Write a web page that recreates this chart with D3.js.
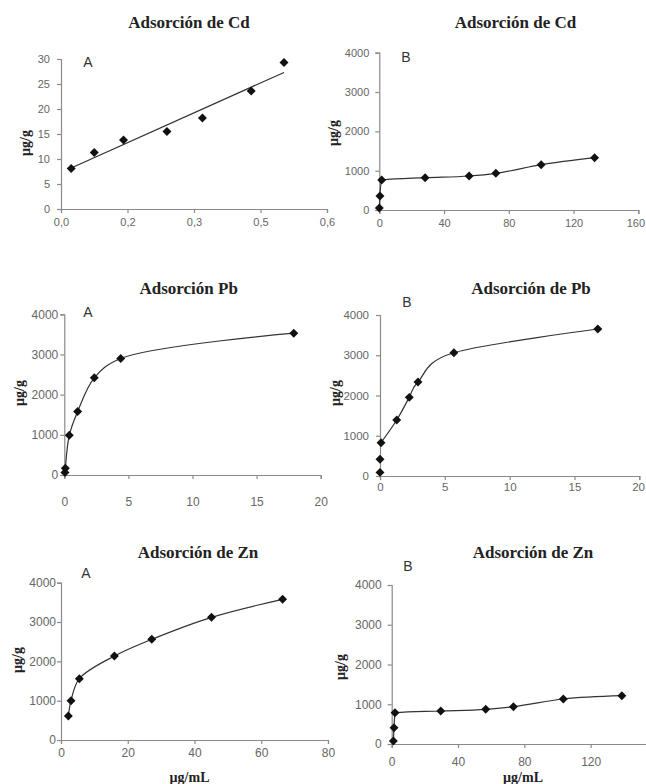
<!DOCTYPE html>
<html>
<head>
<meta charset="utf-8">
<script src="https://cdn.jsdelivr.net/npm/d3@7"></script>
<style>
  html, body { margin: 0; padding: 0; background: #fff; }
  svg { display: block; }
  .title { font-family: "Liberation Serif", "Times New Roman", serif; font-weight: bold; fill: #222; }
  .ylab, .xlab { font-family: "Liberation Serif", "Times New Roman", serif; font-weight: bold; fill: #222; }
  .tick text { font-family: "Liberation Sans", Arial, sans-serif; fill: #666; }
  .letter { font-family: "Liberation Sans", Arial, sans-serif; fill: #333; }
</style>
</head>
<body>
<svg id="chart" width="646" height="784"></svg>
<script>
// ---------------- DATA ----------------
const titles = ["Adsorción de Cd", "Adsorción de Cd", "Adsorción Pb", "Adsorción de Pb", "Adsorción de Zn", "Adsorción de Zn"];
const panelLetters = ["A", "B", "A", "B", "A", "B"];
const yAxisLabel = "µg/g";
const xAxisLabel = "µg/mL";

// Cd – A
const cdA_x = [0.023, 0.075, 0.141, 0.239, 0.319, 0.429, 0.503];
const cdA_y = [8.1, 11.3, 13.8, 15.5, 18.2, 23.6, 29.3];
const cdA_xTicks = [0, 0.15, 0.3, 0.45, 0.6];
const cdA_xTickLabels = ["0,0", "0,2", "0,3", "0,5", "0,6"];
const cdA_yTicks = [0, 5, 10, 15, 20, 25, 30];

// Cd – B
const cdB_x = [0, 0.4, 1.5, 28.3, 55.5, 72, 100, 133];
const cdB_y = [50, 356, 763, 822, 865, 933, 1153, 1331];
const cdB_xTicks = [0, 40, 80, 120, 160];

// Pb – A
const pbA_x = [0.05, 0.08, 0.39, 1.04, 2.34, 4.4, 17.9];
const pbA_y = [60, 170, 990, 1580, 2420, 2900, 3530];

// Pb – B (line starts at the third point)
const pbB_x = [0, 0, 0.08, 1.29, 2.26, 2.93, 5.7, 16.8];
const pbB_y = [90, 414, 828, 1391, 1954, 2335, 3063, 3652];
const pb_xTicks = [0, 5, 10, 15, 20];

// Zn – A
const znA_x = [2.2, 3.0, 5.5, 16, 27.2, 45.1, 66.4];
const znA_y = [610, 1000, 1560, 2136, 2560, 3120, 3577];
const znA_xTicks = [0, 20, 40, 60, 80];

// Zn – B
const znB_x = [1, 1.4, 2, 29.6, 56.7, 73.4, 103.5, 138.8];
const znB_y = [75, 411, 788, 830, 872, 939, 1132, 1216];
const znB_xTicks = [0, 40, 80, 120];

const conc_yTicks = [0, 1000, 2000, 3000, 4000];

// ---------------- LAYOUT ----------------
const panels = [
  { xs: cdA_x, ys: cdA_y, xDom: [0, 0.6], yDom: [0, 30], xR: [61, 327], yR: [209, 59],
    xTicks: cdA_xTicks, xLabels: cdA_xTickLabels, yTicks: cdA_yTicks, mode: "trend", lineFrom: 0,
    title: [189, 28], letter: [88, 67], ylab: [25, 143], xPad: 5, yPad: 7, fs: 11 },
  { xs: cdB_x, ys: cdB_y, xDom: [0, 160], yDom: [0, 4000], xR: [379.3, 638.3], yR: [210, 52.7],
    xTicks: cdB_xTicks, yTicks: conc_yTicks, mode: "mono", lineFrom: 0,
    title: [515.5, 28], letter: [406, 62], ylab: [333, 133], xPad: 5, yPad: 6, fs: 11 },
  { xs: pbA_x, ys: pbA_y, xDom: [0, 20], yDom: [0, 4000], xR: [64.3, 320.7], yR: [475, 314.3],
    xTicks: pb_xTicks, yTicks: conc_yTicks, mode: "smooth", alpha: 0.5, lineFrom: 0,
    title: [188.7, 294], letter: [88, 317], ylab: [19, 393], xPad: 18, yPad: 2, fs: 12 },
  { xs: pbB_x, ys: pbB_y, xDom: [0, 20], yDom: [0, 4000], xR: [380, 639.3], yR: [476, 315],
    xTicks: pb_xTicks, yTicks: conc_yTicks, mode: "smooth", alpha: 0, lineFrom: 2,
    title: [531, 294], letter: [407, 307], ylab: [335, 393], xPad: 3, yPad: 7, fs: 11.5 },
  { xs: znA_x, ys: znA_y, xDom: [0, 80], yDom: [0, 4000], xR: [61, 328], yR: [740, 582.7],
    xTicks: znA_xTicks, yTicks: conc_yTicks, mode: "smooth", alpha: 0.5, lineFrom: 0,
    title: [198, 558], letter: [86, 578], ylab: [17, 660], xPad: 4, yPad: 1, fs: 12, xlab: [189.5, 782] },
  { xs: znB_x, ys: znB_y, xDom: [0, 160], yDom: [0, 4000], xR: [391.7, 657], yR: [744, 585],
    xTicks: znB_xTicks, yTicks: conc_yTicks, mode: "mono", lineFrom: 0,
    title: [533, 558], letter: [408, 571], ylab: [340, 667], xPad: 9, yPad: 6, fs: 12, xlab: [523, 782] }
];

const svg = d3.select("#chart");
const W = 646;
const diamond = d3.symbol().type(d3.symbolSquare).size(40);

panels.forEach((p, i) => {
  const g = svg.append("g");
  const x = d3.scaleLinear().domain(p.xDom).range(p.xR);
  const y = d3.scaleLinear().domain(p.yDom).range(p.yR);

  const xAxis = d3.axisBottom(x).tickValues(p.xTicks).tickSizeOuter(0).tickSize(4).tickPadding(p.xPad)
    .tickFormat((d, k) => p.xLabels ? p.xLabels[k] : d3.format("d")(d));
  const yAxis = d3.axisLeft(y).tickValues(p.yTicks).tickSizeOuter(0).tickSize(4).tickPadding(p.yPad)
    .tickFormat(d3.format("d"));

  const gx = g.append("g").attr("transform", `translate(0,${p.yR[0]})`).call(xAxis);
  const gy = g.append("g").attr("transform", `translate(${p.xR[0]},0)`).call(yAxis);
  [gx, gy].forEach(a => {
    a.select(".domain").attr("stroke", "#8a8a8a").attr("stroke-width", 1.2);
    a.selectAll(".tick line").attr("stroke", "#8a8a8a").attr("stroke-width", 1.2);
    a.selectAll(".tick text").style("font-size", p.fs + "px");
  });
  gx.selectAll(".tick text").each(function () {
    const bb = this.getBBox();
    const ctm = this.getCTM();
    const right = ctm.e + bb.x + bb.width;
    if (right > W - 1) d3.select(this).attr("dx", (W - 1 - right) + "px");
  });

  const pts = p.xs.map((v, k) => [v, p.ys[k]]);

  if (p.mode === "trend") {
    const mx = d3.mean(p.xs), my = d3.mean(p.ys);
    const sxy = d3.sum(pts, d => (d[0] - mx) * (d[1] - my));
    const sxx = d3.sum(pts, d => (d[0] - mx) * (d[0] - mx));
    const b = sxy / sxx, a0 = my - b * mx;
    const x0 = d3.min(p.xs), x1 = d3.max(p.xs);
    g.append("line")
      .attr("x1", x(x0)).attr("y1", y(a0 + b * x0))
      .attr("x2", x(x1)).attr("y2", y(a0 + b * x1))
      .attr("stroke", "#333").attr("stroke-width", 1.2);
  } else {
    const curve = p.mode === "mono" ? d3.curveMonotoneX : d3.curveCatmullRom.alpha(p.alpha);
    const line = d3.line().x(d => x(d[0])).y(d => y(d[1])).curve(curve);
    g.append("path").datum(pts.slice(p.lineFrom))
      .attr("d", line).attr("fill", "none").attr("stroke", "#333").attr("stroke-width", 1.2);
  }

  g.selectAll(".pt").data(pts).enter().append("path")
    .attr("d", diamond)
    .attr("transform", d => `translate(${x(d[0])},${y(d[1])}) rotate(45)`)
    .attr("fill", "#111");

  g.append("text").attr("class", "title")
    .attr("x", p.title[0]).attr("y", p.title[1]).attr("text-anchor", "middle")
    .style("font-size", "17px").text(titles[i]);

  g.append("text").attr("class", "letter")
    .attr("x", p.letter[0]).attr("y", p.letter[1]).attr("text-anchor", "middle")
    .style("font-size", "14px").text(panelLetters[i]);

  g.append("text").attr("class", "ylab")
    .attr("transform", `translate(${p.ylab[0]},${p.ylab[1]}) rotate(-90)`)
    .attr("text-anchor", "middle").attr("dy", "0.35em")
    .style("font-size", "14px").text(yAxisLabel);

  if (p.xlab) {
    g.append("text").attr("class", "xlab")
      .attr("x", p.xlab[0]).attr("y", p.xlab[1]).attr("text-anchor", "middle")
      .style("font-size", "14px").text(xAxisLabel);
  }
});
</script>
</body>
</html>
